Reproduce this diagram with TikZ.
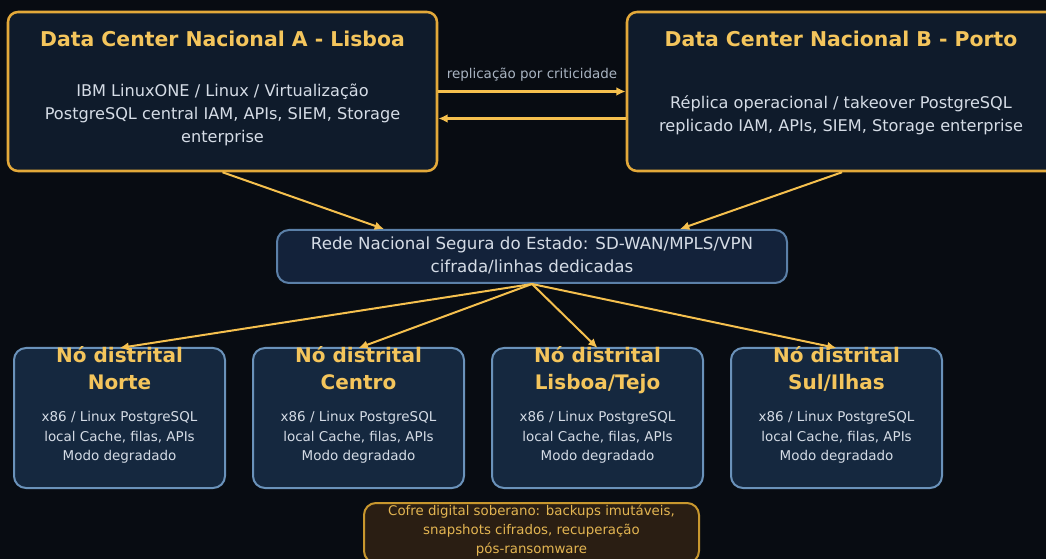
\documentclass[tikz,border=0pt]{standalone}
\usepackage{fontspec}
\setmainfont{DejaVu Sans}
\usetikzlibrary{positioning, arrows.meta, calc}

\definecolor{bgdark}{HTML}{080C12}
\definecolor{dcfill}{HTML}{0F1B2B}
\definecolor{dcborder}{HTML}{E3A93A}
\definecolor{titlegold}{HTML}{F4C55C}
\definecolor{linkgold}{HTML}{F5C04E}
\definecolor{bodytxt}{HTML}{D5DCE6}
\definecolor{netfill}{HTML}{13223A}
\definecolor{netborder}{HTML}{5B80A8}
\definecolor{nodefill}{HTML}{15283F}
\definecolor{nodeborder}{HTML}{6A92BA}
\definecolor{vaultfill}{HTML}{2A1E13}
\definecolor{vaultborder}{HTML}{C8972E}
\definecolor{vaulttxt}{HTML}{E3B552}
\definecolor{labelgray}{HTML}{A9B4C2}

\begin{document}
\begin{tikzpicture}[x=0.75pt, y=-0.75pt, >={Latex[length=7pt, width=6.5pt]},
    dcbox/.style={draw=dcborder, fill=dcfill, line width=1.9pt, rounded corners=7.5pt, minimum width=429*0.75pt, minimum height=159*0.75pt},
    netbox/.style={draw=netborder, fill=netfill, line width=1.5pt, rounded corners=9pt, minimum width=510*0.75pt, minimum height=53*0.75pt},
    distbox/.style={draw=nodeborder, fill=nodefill, line width=1.5pt, rounded corners=9pt, outer sep=0pt, minimum width=211*0.75pt, minimum height=140*0.75pt},
    vaultbox/.style={draw=vaultborder, fill=vaultfill, line width=1.5pt, rounded corners=9pt, minimum width=335*0.75pt, minimum height=60*0.75pt},
    dctitle/.style={text=titlegold, font=\bfseries\fontsize{15.3pt}{18pt}\selectfont},
    dcbody/.style={text=bodytxt, align=center, font=\fontsize{12.1pt}{17.25pt}\selectfont},
    disttitle/.style={text=titlegold, align=center, anchor=north, inner sep=0pt, font=\bfseries\fontsize{15pt}{20.25pt}\selectfont},
    distbody/.style={text=bodytxt, align=center, font=\fontsize{10.1pt}{14.6pt}\selectfont},
    link/.style={->, draw=linkgold, line width=1.5pt},
    replink/.style={->, draw=linkgold, line width=1.9pt}]

  \fill[bgdark] (0,0) rectangle (1046,559);
  \useasboundingbox (0,0) rectangle (1046,559);

  % data centers
  \node[dcbox] (dcA) at (222.5,91.5) {};
  \node[dcbox, minimum width=430*0.75pt] (dcB) at (842,91.5) {};

  % state network
  \node[netbox] (net) at (532,256.5) {};

  % district nodes
  \node[distbox] (norte) at (119.5,418) {};
  \node[distbox] (centro) [right=21pt of norte] {};
  \node[distbox] (tejo) [right=21pt of centro] {};
  \node[distbox] (sul) [right=21pt of tejo] {};

  % vault
  \node[vaultbox] (vault) at (531.5,533) {};

  % links
  \draw[replink] (dcA.east) -- node[above=3pt, text=labelgray, font=\fontsize{10.1pt}{12pt}\selectfont] (replabel) {replicação por criticidade} (dcB.west);
  \draw[replink] ($(dcB.west)+(0,27)$) -- ($(dcA.east)+(0,27)$);
  \draw[link] (dcA.south) -- ($(net.north)+(-148,0)$);
  \draw[link] (dcB.south) -- ($(net.north)+(148,0)$);
  \foreach \d in {norte, centro, tejo, sul}
    \draw[link] (net.south) -- (\d.north);

  % texts
  \node[dctitle] (titA) at (222.5,39) {Data Center Nacional A - Lisboa};
  \node[dcbody] (txtA) at (222.5,115) {IBM LinuxONE / Linux / Virtualização\\PostgreSQL central IAM, APIs, SIEM, Storage\\enterprise};
  \node[dctitle] (titB) at (841,39) {Data Center Nacional B - Porto};
  \node[dcbody] (txtB) at (841,115.5) {Réplica operacional / takeover PostgreSQL\\replicado IAM, APIs, SIEM, Storage enterprise};

  \node[dcbody, font=\fontsize{12.5pt}{17.25pt}\selectfont] (txtnet) at (532,255.5) {Rede Nacional Segura do Estado: SD-WAN/MPLS/VPN\\cifrada/linhas dedicadas};

  \node[disttitle] (titnorte) at (norte.center |- 0,346.5) {Nó distrital\\Norte};
  \node[disttitle] (titcentro) at (centro.center |- 0,346.5) {Nó distrital\\Centro};
  \node[disttitle] (tittejo) at (tejo.center |- 0,346.5) {Nó distrital\\Lisboa/Tejo};
  \node[disttitle] (titsul) at (sul.center |- 0,346.5) {Nó distrital\\Sul/Ilhas};
  \foreach \d in {norte, centro, tejo, sul}
    \node[distbody] (txt\d) at (\d.center |- 0,437.5) {x86 / Linux PostgreSQL\\local Cache, filas, APIs\\Modo degradado};

  \node[text=vaulttxt, align=center, font=\fontsize{10pt}{14.25pt}\selectfont] (txtvault) at (531.5,530.5) {Cofre digital soberano: backups imutáveis,\\snapshots cifrados, recuperação\\pós-ransomware};
\end{tikzpicture}
\end{document}
